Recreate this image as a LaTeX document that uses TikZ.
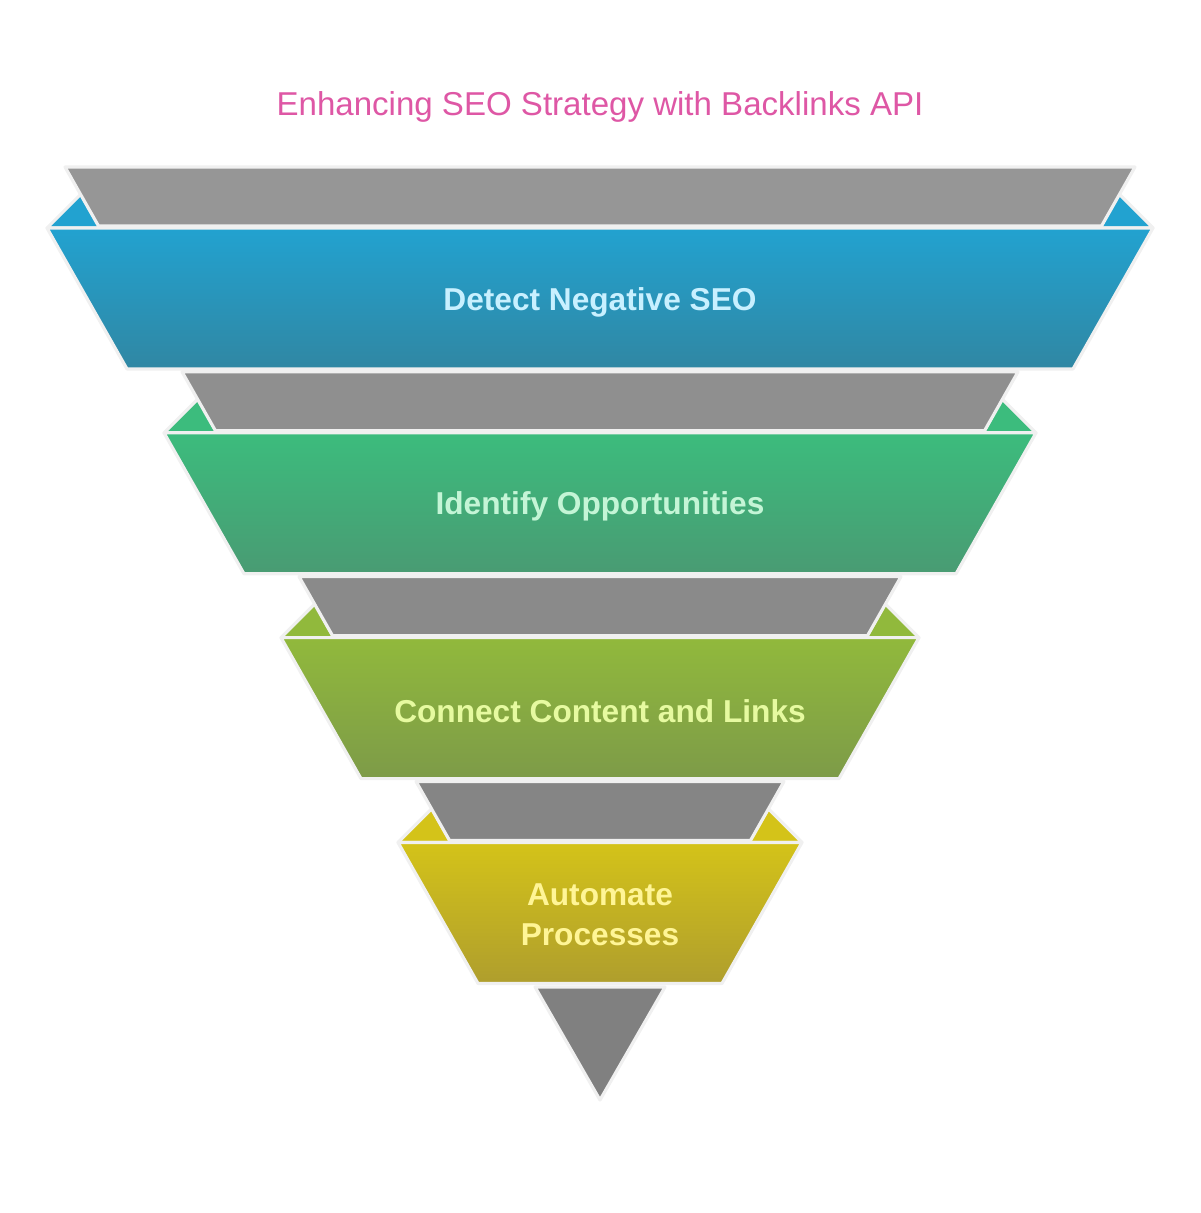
\documentclass[tikz,border=0pt]{standalone}
\usepackage{fontspec}
\setmainfont{Liberation Sans}
\definecolor{titlepink}{RGB}{222,87,165}
\definecolor{rimgray}{RGB}{240,240,240}
\definecolor{bluetop}{RGB}{34,162,208}
\definecolor{bluebot}{RGB}{48,135,163}
\definecolor{greentop}{RGB}{60,188,125}
\definecolor{greenbot}{RGB}{73,155,115}
\definecolor{olivetop}{RGB}{145,185,60}
\definecolor{olivebot}{RGB}{125,155,72}
\definecolor{yellowtop}{RGB}{212,195,25}
\definecolor{yellowbot}{RGB}{175,158,45}
\definecolor{grayA}{RGB}{150,150,150}
\definecolor{grayB}{RGB}{143,143,143}
\definecolor{grayC}{RGB}{138,138,138}
\definecolor{grayD}{RGB}{133,133,133}
\definecolor{grayE}{RGB}{128,128,128}
\definecolor{detecttext}{RGB}{200,240,255}
\definecolor{identifytext}{RGB}{196,245,214}
\definecolor{connecttext}{RGB}{230,250,160}
\definecolor{automatetext}{RGB}{255,245,150}
\tikzset{rim/.style={draw=rimgray,line width=0.9pt,line join=round}}
\tikzset{titletext/.style={text=titlepink,font=\fontsize{9.4}{11}\selectfont,inner sep=0pt}}
\tikzset{stagetext/.style={font=\bfseries\fontsize{9}{11.4}\selectfont,align=center,inner sep=0pt}}

\begin{document}
\begin{tikzpicture}[x=0.01cm,y=-0.01cm]
\useasboundingbox (0,0) rectangle (1200,1213);
\node (title) [titletext] at (600,107) {Enhancing SEO Strategy with Backlinks API};
% funnel: ears, grey band, coloured band
\foreach \i/\col/\gr in {0/blue/grayA,1/green/grayB,2/olive/grayC,3/yellow/grayD}{
  \pgfmathsetmacro{\dx}{117*\i}
  \begin{scope}[yshift={-2.047cm*\i}]
    \fill[\col top,rim] ({47+\dx},228) -- ({81+\dx},194) -- ({100+\dx},228) -- cycle;
    \fill[\col top,rim] ({1153-\dx},228) -- ({1119-\dx},194) -- ({1100-\dx},228) -- cycle;
    \fill[\gr,rim] ({65+\dx},167) -- ({1135-\dx},167) -- ({1101.5-\dx},226) -- ({98.5+\dx},226) -- cycle;
    \shade[top color=\col top,bottom color=\col bot,rim] ({47+\dx},228) -- ({1153-\dx},228) -- ({1073-\dx},369) -- ({127+\dx},369) -- cycle;
  \end{scope}
}
\fill[grayE,rim] (535,987) -- (665,987) -- (600,1100) -- cycle;
\node (detect) [stagetext,text=detecttext] at (600,302) {Detect Negative SEO};
\node (identify) [stagetext,text=identifytext] at (600,506) {Identify Opportunities};
\node (connect) [stagetext,text=connecttext] at (600,711) {Connect Content and Links};
\node (automate) [stagetext,text=automatetext] at (600,915) {Automate\\Processes};
\end{tikzpicture}
\end{document}
